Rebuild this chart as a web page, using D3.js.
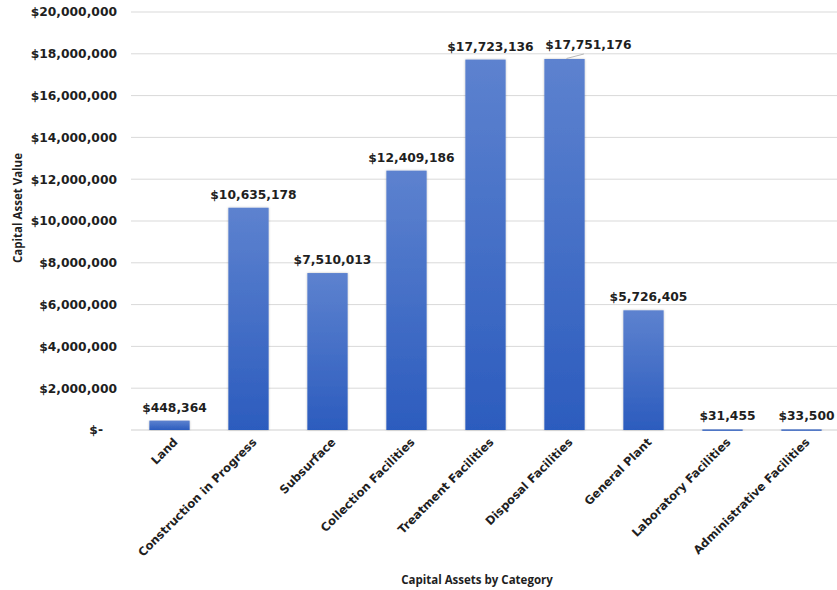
<!DOCTYPE html>
<html>
<head>
<meta charset="utf-8">
<script src="https://cdn.jsdelivr.net/npm/d3@7"></script>
<style>
  html, body { margin: 0; padding: 0; background: #fff; }
  svg { display: block; }
</style>
</head>
<body>
<div id="chart"></div>
<script>
// Values
const categories = [
  "Land",
  "Construction in Progress",
  "Subsurface",
  "Collection Facilities",
  "Treatment Facilities",
  "Disposal Facilities",
  "General Plant",
  "Laboratory Facilities",
  "Administrative Facilities"
];
const values = [448364, 10635178, 7510013, 12409186, 17723136, 17751176, 5726405, 31455, 33500];
const yTicks = [0, 2e6, 4e6, 6e6, 8e6, 10e6, 12e6, 14e6, 16e6, 18e6, 20e6];

const width = 837;
const height = 590;
const marginTop = 12;
const marginLeft = 130;
const plotRight = 841;
const plotBottom = 430;

const labelFont = "'DejaVu Sans', Verdana, sans-serif";
const titleFont = "'Open Sans', 'Noto Sans', sans-serif";
const ink = "#1f1f1f";

const x = d3.scaleBand()
  .domain(categories)
  .range([marginLeft, plotRight])
  .paddingInner(0.49)
  .paddingOuter(0.245);

const y = d3.scaleLinear()
  .domain([0, 20e6])
  .range([plotBottom, marginTop]);

const money = d3.format("$,.0f");

const svg = d3.select("#chart")
  .append("svg")
  .attr("width", width)
  .attr("height", height)
  .attr("viewBox", [0, 0, width, height]);

const defs = svg.append("defs");
const grad = defs.append("linearGradient")
  .attr("id", "barGrad")
  .attr("x1", 0).attr("y1", 0)
  .attr("x2", 0).attr("y2", 1);
grad.append("stop").attr("offset", "0%").attr("stop-color", "#5d82cf");
grad.append("stop").attr("offset", "100%").attr("stop-color", "#2c5cbe");

const shadow = defs.append("filter")
  .attr("id", "shadow")
  .attr("x", "-20%").attr("y", "-5%")
  .attr("width", "140%").attr("height", "110%");
shadow.append("feDropShadow")
  .attr("dx", 0).attr("dy", 0)
  .attr("stdDeviation", 1.2)
  .attr("flood-color", "#000")
  .attr("flood-opacity", 0.25);

// Gridlines
svg.append("g")
  .selectAll("line")
  .data(yTicks.filter(d => d > 0))
  .join("line")
  .attr("x1", marginLeft + 1)
  .attr("x2", plotRight)
  .attr("y1", d => y(d))
  .attr("y2", d => y(d))
  .attr("stroke", "#d9d9d9")
  .attr("stroke-width", 1);

// Baseline
svg.append("line")
  .attr("x1", marginLeft + 1)
  .attr("x2", plotRight)
  .attr("y1", y(0))
  .attr("y2", y(0))
  .attr("stroke", "#d0d0d0")
  .attr("stroke-width", 1.2);

// Y axis tick labels
const yAxis = svg.append("g")
  .attr("transform", `translate(${marginLeft - 13},0)`)
  .call(d3.axisLeft(y)
    .tickValues(yTicks)
    .tickSize(0)
    .tickPadding(0)
    .tickFormat(d => d === 0 ? "$-" : money(d)));
yAxis.select(".domain").remove();
yAxis.selectAll("text")
  .attr("font-family", labelFont)
  .attr("font-weight", "bold")
  .attr("font-size", "12.3px")
  .attr("fill", ink)
  .attr("dx", d => d === 0 ? -14 : 0);

// Bars
svg.append("g")
  .selectAll("rect")
  .data(values)
  .join("rect")
  .attr("x", (d, i) => x(categories[i]))
  .attr("width", x.bandwidth())
  .attr("y", d => y(d))
  .attr("height", d => Math.max(1.5, y(0) - y(d)))
  .attr("fill", "url(#barGrad)")
  .attr("filter", "url(#shadow)");

// Data labels (the Disposal label sits off to the right with a leader line)
const shiftIdx = 5;
const labelDx = (i) => i === shiftIdx ? 24 : 5;
const labelDy = (i) => i === shiftIdx ? -10 : -9;

svg.append("line")
  .attr("x1", x(categories[shiftIdx]) + x.bandwidth() * 0.55)
  .attr("y1", y(values[shiftIdx]) - 0.5)
  .attr("x2", x(categories[shiftIdx]) + x.bandwidth() * 0.98)
  .attr("y2", y(values[shiftIdx]) - 5)
  .attr("stroke", "#a6a6a6")
  .attr("stroke-width", 0.8);

svg.append("g")
  .selectAll("text")
  .data(values)
  .join("text")
  .attr("x", (d, i) => x(categories[i]) + x.bandwidth() / 2 + labelDx(i))
  .attr("y", (d, i) => y(d) + labelDy(i))
  .attr("text-anchor", "middle")
  .attr("font-family", labelFont)
  .attr("font-weight", "bold")
  .attr("font-size", "12.3px")
  .attr("fill", ink)
  .text(d => money(d));

// Category labels, rotated
svg.append("g")
  .selectAll("text")
  .data(categories)
  .join("text")
  .attr("transform", d => `translate(${x(d) + x.bandwidth() / 2 + 6},${plotBottom + 10}) rotate(-45)`)
  .attr("text-anchor", "end")
  .attr("dy", "0.35em")
  .attr("font-family", labelFont)
  .attr("font-weight", "bold")
  .attr("font-size", "11.6px")
  .attr("fill", ink)
  .text(d => d);

// Axis titles
svg.append("text")
  .attr("transform", `translate(22,208) rotate(-90)`)
  .attr("text-anchor", "middle")
  .attr("font-family", titleFont)
  .attr("font-weight", "bold")
  .attr("font-size", "11.5px")
  .attr("fill", ink)
  .text("Capital Asset Value");

svg.append("text")
  .attr("x", 477)
  .attr("y", 584)
  .attr("text-anchor", "middle")
  .attr("font-family", titleFont)
  .attr("font-weight", "bold")
  .attr("font-size", "11.5px")
  .attr("fill", ink)
  .text("Capital Assets by Category");
</script>
</body>
</html>
